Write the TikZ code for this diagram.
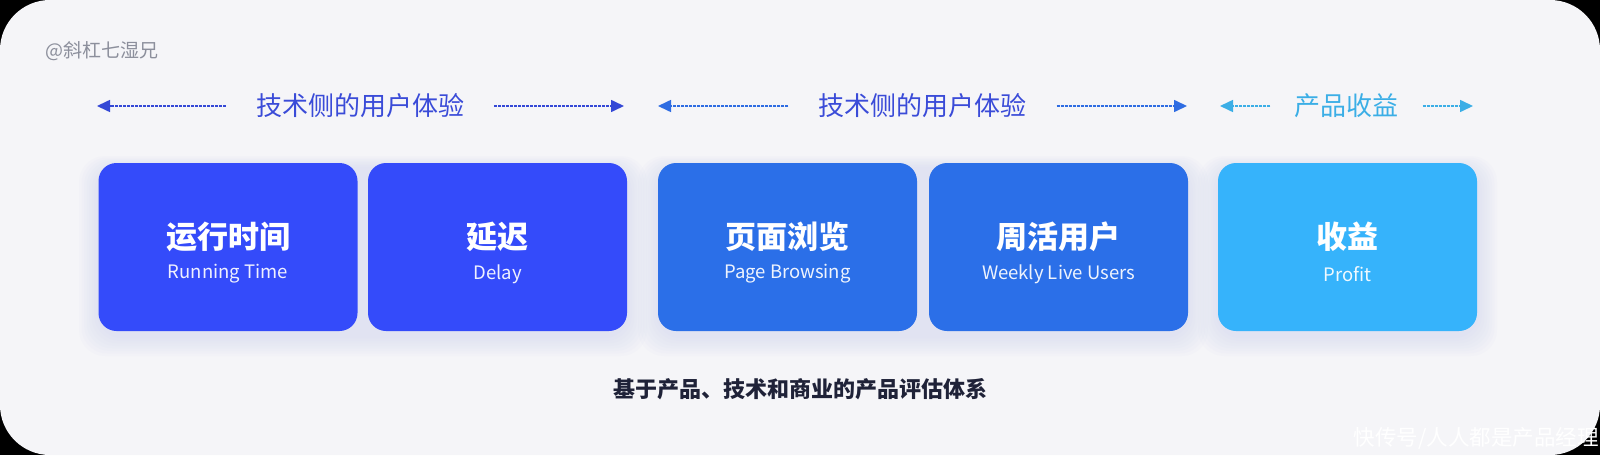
\documentclass[tikz,border=0pt]{standalone}
\usepackage{fontspec}
\setmainfont{Noto Sans CJK SC}
\usetikzlibrary{arrows.meta}
\definecolor{bgc}{HTML}{F5F5F8}
\definecolor{boxA}{HTML}{344BFA}
\definecolor{boxB}{HTML}{2B6FE8}
\definecolor{boxC}{HTML}{36B3FB}
\definecolor{hdrA}{HTML}{3A4BD8}
\definecolor{arrA}{HTML}{3448D6}
\definecolor{arrB}{HTML}{2E6CE2}
\definecolor{hdrC}{HTML}{3BAEE6}
\definecolor{capc}{HTML}{1F2238}
\definecolor{wmc}{HTML}{8C8F9C}
\definecolor{shc}{HTML}{C3CAF2}
\tikzset{
  card/.style={rounded corners=18pt, minimum width=259pt, minimum height=168pt, inner sep=0pt},
  ttl/.style={text=white, font=\fontsize{31}{36}\selectfont\bfseries, inner sep=0pt},
  sub/.style={text=white, text opacity=0.92, font=\fontsize{18.5}{22}\selectfont, inner sep=0pt},
  hdr/.style={font=\fontsize{26}{30}\selectfont, inner ysep=0pt},
  dasharrow/.style={line width=1.6pt, dash pattern=on 3pt off 1pt, -{Triangle[length=13pt,width=12pt]}},
  shadowlayer/.style={fill=shc, opacity=0.05, rounded corners=26pt}
}
\begin{document}
\begin{tikzpicture}[x=1pt,y=-1pt]
\fill[black] (0,0) rectangle (1600,455);
\fill[bgc, rounded corners=50pt] (0,0) rectangle (1600,455);
\useasboundingbox (0,0) rectangle (1600,455);

% soft shadows
\foreach \xa/\xb in {99/627, 658/1188, 1218/1477}{
  \foreach \i in {1,...,8}{
    \fill[shadowlayer] (\xa-2.5*\i, 168-1.5*\i) rectangle (\xb+2.5*\i, 336+2.5*\i);
  }
}

% watermark
\node[text=wmc, font=\fontsize{19}{23}\selectfont, anchor=west, inner sep=0pt] (wm) at (45,51) {@斜杠七湿兄};

% cards
\node[card, fill=boxA] (b1) at (228,247) {};
\node[card, fill=boxA] (b2) at (497.5,247) {};
\node[card, fill=boxB] (b3) at (787.5,247) {};
\node[card, fill=boxB] (b4) at (1058.5,247) {};
\node[card, fill=boxC] (b5) at (1347.5,247) {};

\node[ttl] (t1) at (228,237) {运行时间};
\node[sub] (s1) at (228,274) {Running Time};
\node[ttl] (t2) at (497.5,237) {延迟};
\node[sub] (s2) at (497.5,274) {Delay};
\node[ttl] (t3) at (787.5,237) {页面浏览};
\node[sub] (s3) at (787.5,274) {Page Browsing};
\node[ttl] (t4) at (1058.5,237) {周活用户};
\node[sub] (s4) at (1058.5,274) {Weekly Live Users};
\node[ttl] (t5) at (1347.5,237) {收益};
\node[sub] (s5) at (1347.5,274) {Profit};

% headers
\node[hdr, text=hdrA, inner xsep=30pt] (h1) at (360,106) {技术侧的用户体验};
\node[hdr, text=hdrA, inner xsep=30pt] (h2) at (922.5,106) {技术侧的用户体验};
\node[hdr, text=hdrC, inner xsep=24pt] (h3) at (1346.5,106) {产品收益};
\coordinate (l1) at (97,106);
\coordinate (r1) at (624,106);
\coordinate (l2) at (658,106);
\coordinate (r2) at (1187,106);
\coordinate (l3) at (1220,106);
\coordinate (r3) at (1473,106);
\draw[dasharrow, arrA] (h1.west |- l1) -- (l1);
\draw[dasharrow, arrA] (h1.east |- r1) -- (r1);
\draw[dasharrow, arrB] (h2.west |- l2) -- (l2);
\draw[dasharrow, arrB] (h2.east |- r2) -- (r2);
\draw[dasharrow, hdrC] (h3.west |- l3) -- (l3);
\draw[dasharrow, hdrC] (h3.east |- r3) -- (r3);

% caption
\node[text=capc, font=\fontsize{22}{26}\selectfont\bfseries, inner sep=0pt] (cap) at (800,389) {基于产品、技术和商业的产品评估体系};

% bottom-right watermark
\node[text=white, font=\fontsize{21.5}{26}\selectfont, anchor=east, inner sep=0pt] (wm2) at (1599,438) {快传号/人人都是产品经理};
\end{tikzpicture}
\end{document}
